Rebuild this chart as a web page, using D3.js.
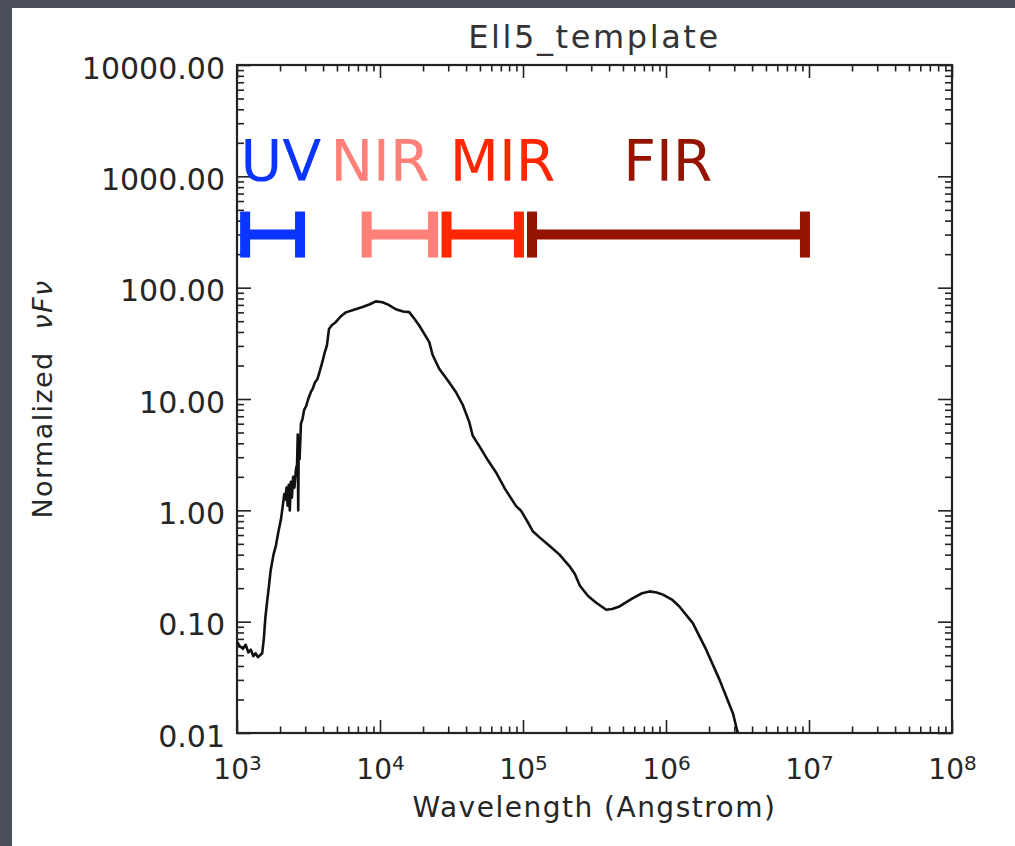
<!DOCTYPE html>
<html>
<head>
<meta charset="utf-8">
<script src="https://cdn.jsdelivr.net/npm/d3@7"></script>
<style>
	html, body { margin: 0; padding: 0; background: #4b4f5b; }
	svg { display: block; }
	text { font-family: "DejaVu Sans", sans-serif; }
</style>
</head>
<body>
<svg id="svgSed" width="1015" height="846"></svg>
<script>
// Template SED (wavelength in Angstrom, normalized nuFnu)
var waves = [1000, 1050, 1100, 1150, 1200, 1250, 1300, 1350, 1400, 1450, 1500, 1540, 1580, 1630, 1680, 1720,
	1800, 1870, 1950, 2030, 2100, 2140, 2180, 2220, 2260, 2300, 2340, 2380, 2420, 2470, 2520, 2580, 2630,
	2660, 2680, 2700, 2740, 2800, 2870, 2950, 3050, 3150, 3280, 3400, 3500, 3650, 3800, 3950, 4100, 4250,
	4400, 4600, 4900, 5300, 5770, 6500, 7540, 8500, 9350, 10400, 11500, 12900, 14500, 16000, 17500, 18800,
	20500, 22100, 23300, 26000, 30000, 34000, 38000, 42100, 44500, 50000, 57000, 64800, 75000, 89500, 97000,
	107000, 117000, 133000, 153000, 180000, 211000, 230000, 250000, 285000, 325000, 382000, 420000, 473000,
	587000, 680000, 767000, 860000, 951000, 1100000, 1240000, 1540000, 1910000, 2370000, 2940000, 3140000, 3400000];
var fluxes = [0.066, 0.060, 0.057, 0.062, 0.053, 0.056, 0.049, 0.052, 0.048, 0.050, 0.052, 0.070, 0.11, 0.158, 0.22, 0.29,
	0.40, 0.48, 0.65, 0.83, 1.15, 1.4, 1.25, 1.6, 1.1, 1.7, 1.0, 1.8, 1.3, 2.0, 1.6, 2.3, 2.6,
	4.8, 1.0, 3.6, 2.9, 6.0, 6.6, 8.0, 8.7, 10.0, 11.5, 12.5, 14, 15.1, 18, 21.4, 26, 30.2,
	42.6, 46, 49, 55, 60, 63, 67, 71, 75.3, 74, 70, 64, 61, 60.3, 52, 45.7,
	38, 32.4, 25, 18.6, 14.5, 11.5, 8.8, 6.2, 4.68, 3.7, 2.8, 2.19, 1.55, 1.09, 0.99,
	0.80, 0.65, 0.56, 0.48, 0.40, 0.316, 0.27, 0.21, 0.17, 0.148, 0.128, 0.130, 0.137,
	0.163, 0.180, 0.187, 0.183, 0.175, 0.158, 0.137, 0.097, 0.056, 0.030, 0.015, 0.0106, 0.008];

// Wavelength bands (Angstrom)
var bandNames = ["UV", "NIR", "MIR", "FIR"];
var bandStart = [1140, 8070, 29200, 115600];
var bandEnd = [2760, 23500, 93800, 9370000];
var bandLabelWave = [2030, 10000, 71900, 1030000];
var bandColors = ["#0a34ff", "#ff8079", "#ff2600", "#941400"];
var bandLevel = 300;
var bandLabelLevel = 900;

// Axis ticks
var xMajor = [1e3, 1e4, 1e5, 1e6, 1e7, 1e8];
var yMajor = [0.01, 0.1, 1, 10, 100, 1000, 10000];

var sed = {};
sed.width = 1015;
sed.height = 846;

sed.init = () => {
	let svg = d3.select("#svgSed");

	// White slide panel
	svg.append("rect")
		.attr("x", 12).attr("y", 8)
		.attr("width", sed.width - 12).attr("height", sed.height - 8)
		.attr("fill", "#ffffff");

	let left = 237, right = 952, top = 65, bottom = 733;

	let x = d3.scaleLog().domain([1e3, 1e8]).range([left, right]),
		y = d3.scaleLog().domain([0.01, 1e4]).range([bottom, top]);

	// minor ticks 2..9 of each decade
	let xMinor = [], yMinor = [];
	xMajor.slice(0, -1).forEach(d => { for (let k = 2; k < 10; k++) xMinor.push(d * k); });
	yMajor.slice(0, -1).forEach(d => { for (let k = 2; k < 10; k++) yMinor.push(d * k); });

	let axisColor = "#222";

	// Bottom axis (major with labels)
	let gxB = svg.append("g")
		.attr("transform", "translate(0," + bottom + ")")
		.call(d3.axisBottom(x).tickValues(xMajor).tickSize(-13).tickPadding(26).tickFormat(""));
	gxB.selectAll(".tick text").each(function(d) {
		let t = d3.select(this)
			.attr("fill", "#262626")
			.attr("font-size", 28)
			.attr("dy", "0.71em");
		t.append("tspan").text("10");
		t.append("tspan").attr("dy", -9).attr("font-size", 20).text(Math.round(Math.log10(d)));
	});
	svg.append("g")
		.attr("transform", "translate(0," + bottom + ")")
		.call(d3.axisBottom(x).tickValues(xMinor).tickSize(-6.5).tickFormat(""));

	// Top axis
	svg.append("g")
		.attr("transform", "translate(0," + top + ")")
		.call(d3.axisTop(x).tickValues(xMajor).tickSize(-13).tickFormat(""));
	svg.append("g")
		.attr("transform", "translate(0," + top + ")")
		.call(d3.axisTop(x).tickValues(xMinor).tickSize(-6.5).tickFormat(""));

	// Left axis
	svg.append("g")
		.attr("transform", "translate(" + left + ",0)")
		.call(d3.axisLeft(y).tickValues(yMajor).tickSize(-14).tickPadding(12).tickFormat(d3.format(".2f")))
		.selectAll(".tick text")
		.attr("fill", "#262626")
		.attr("font-size", 30)
		.attr("dy", "0.44em");
	svg.append("g")
		.attr("transform", "translate(" + left + ",0)")
		.call(d3.axisLeft(y).tickValues(yMinor).tickSize(-7).tickFormat(""));

	// Right axis
	svg.append("g")
		.attr("transform", "translate(" + right + ",0)")
		.call(d3.axisRight(y).tickValues(yMajor).tickSize(-14).tickFormat(""));
	svg.append("g")
		.attr("transform", "translate(" + right + ",0)")
		.call(d3.axisRight(y).tickValues(yMinor).tickSize(-7).tickFormat(""));

	svg.selectAll(".domain").remove();
	svg.selectAll(".tick line")
		.attr("stroke", axisColor)
		.attr("stroke-width", 1.6);

	// Plot frame
	svg.append("rect")
		.attr("x", left).attr("y", top)
		.attr("width", right - left).attr("height", bottom - top)
		.attr("fill", "none")
		.attr("stroke", axisColor)
		.attr("stroke-width", 2.2);

	// Clip curve to plot area
	svg.append("clipPath").attr("id", "plotClip")
		.append("rect")
		.attr("x", left).attr("y", top)
		.attr("width", right - left).attr("height", bottom - top);

	let points = waves.map((w, i) => ({ w: w, f: fluxes[i] }));
	let line = d3.line()
		.x(d => x(d.w))
		.y(d => y(d.f));

	svg.append("path")
		.datum(points)
		.attr("clip-path", "url(#plotClip)")
		.attr("d", line)
		.attr("fill", "none")
		.attr("stroke", "#111")
		.attr("stroke-width", 2.6)
		.attr("stroke-linejoin", "round");

	// Band bars
	let yb = y(bandLevel);
	let bands = svg.append("g");
	bandNames.forEach((name, i) => {
		let x0 = x(bandStart[i]), x1 = x(bandEnd[i]), c = bandColors[i];
		bands.append("line")
			.attr("x1", x0).attr("x2", x1)
			.attr("y1", yb).attr("y2", yb)
			.attr("stroke", c).attr("stroke-width", 10);
		[x0, x1].forEach(xc => {
			bands.append("line")
				.attr("x1", xc).attr("x2", xc)
				.attr("y1", yb - 23).attr("y2", yb + 23)
				.attr("stroke", c).attr("stroke-width", 10);
		});
		bands.append("text")
			.attr("x", x(bandLabelWave[i]))
			.attr("y", y(bandLabelLevel))
			.attr("text-anchor", "middle")
			.attr("font-size", 57)
			.attr("fill", c)
			.text(name);
	});

	// Title
	svg.append("text")
		.attr("x", (left + right) / 2)
		.attr("y", 48)
		.attr("text-anchor", "middle")
		.attr("font-size", 32)
		.attr("letter-spacing", 2.6)
		.attr("fill", "#333")
		.text("Ell5_template");

	// X axis title
	svg.append("text")
		.attr("x", (left + right) / 2)
		.attr("y", 817)
		.attr("text-anchor", "middle")
		.attr("font-size", 28)
		.attr("letter-spacing", 1.5)
		.attr("fill", "#262626")
		.text("Wavelength (Angstrom)");

	// Y axis title
	let yt = svg.append("text")
		.attr("transform", "translate(52," + ((top + bottom) / 2) + ") rotate(-90)")
		.attr("text-anchor", "middle")
		.attr("font-size", 27)
		.attr("letter-spacing", 1.4)
		.attr("fill", "#262626");
	yt.append("tspan").text("Normalized");
	yt.append("tspan").attr("dx", 22).attr("font-style", "italic").text("νFν");
}

sed.init();
</script>
</body>
</html>
